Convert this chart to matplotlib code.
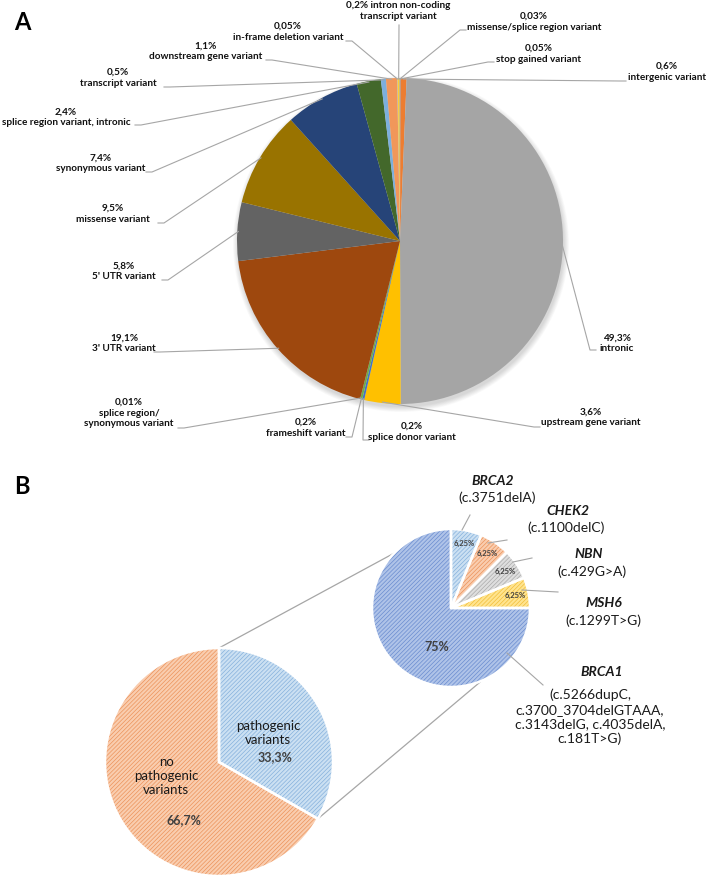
import numpy as np
import matplotlib.pyplot as plt
from matplotlib.patches import Circle

plt.rcParams['font.family'] = ['Lato', 'DejaVu Sans']
plt.rcParams['hatch.linewidth'] = 0.5

# ============ Panel A: all variant types ============
a_names = ['stop gained variant', 'intergenic variant', 'intronic', 'upstream gene variant',
           'splice donor variant', 'frameshift variant', 'splice region/\nsynonymous variant',
           "3' UTR variant", "5' UTR variant", 'missense variant', 'synonymous variant',
           'splice region variant, intronic', 'transcript variant', 'downstream gene variant',
           'in-frame deletion variant', 'intron non-coding\ntranscript variant',
           'missense/splice region variant']
a_values = [0.05, 0.6, 49.3, 3.6, 0.2, 0.2, 0.01, 19.1, 5.8, 9.5, 7.4, 2.4, 0.5, 1.1, 0.05, 0.2, 0.03]
a_pct_text = ['0,05%', '0,6%', '49,3%', '3,6%', '0,2%', '0,2%', '0,01%', '19,1%', '5,8%', '9,5%',
              '7,4%', '2,4%', '0,5%', '1,1%', '0,05%', '0,2%', '0,03%']
a_colors = ['#5B9BD5', '#ED7D31', '#A5A5A5', '#FFC000', '#4472C4', '#70AD47', '#255E91',
            '#9E480E', '#636363', '#997300', '#264478', '#43682B', '#7CAFDD', '#F1975A',
            '#B7B7B7', '#FFCD33', '#698ED0']

# ============ Panel B: pathogenic variants ============
b_main_names = ['pathogenic\nvariants', 'no\npathogenic\nvariants']
b_main_values = [33.3, 66.7]
b_main_pct = ['33,3%', '66,7%']
b_sub_genes = ['BRCA2', 'CHEK2', 'NBN', 'MSH6', 'BRCA1']
b_sub_values = [6.25, 6.25, 6.25, 6.25, 75]
b_sub_pct = ['6,25%', '6,25%', '6,25%', '6,25%', '75%']
b_sub_variants = ['(c.3751delA)', '(c.1100delC)', '(c.429G>A)', '(c.1299T>G)',
                  '(c.5266dupC,\nc.3700_3704delGTAAA,\nc.3143delG, c.4035delA,\nc.181T>G)']

# ============ layout (pixel coordinates, y downwards) ============
W, H = 708, 881
A_C, A_R = (400, 241), 163
B_C, B_R = (219, 762), 114
S_C, S_R = (451, 608), 79

# label centre, line end, stub direction (+1 text on right, -1 text on left)
a_label_xy = [(539, 54), (667, 72), (617, 343), (591, 417), (412, 432), (306, 428),
              (129, 413), (124, 343), (124, 271), (113, 214), (101, 163), (66, 117),
              (118, 78), (206, 51), (288, 32), (398, 11), (534, 22)]
a_line_end = [(488, 62), (620, 81), (590, 350), (534, 427), (363, 440), (352, 437),
              (184, 428), (160, 352), (168, 280), (164, 223), (152, 172), (141, 125),
              (170, 87), (272, 60), (352, 41), (399, 25), (460, 30)]
a_stub = [1, 1, 1, 1, 1, -1, -1, -1, -1, -1, -1, -1, -1, -1, -1, 0, 1]

b_gene_xy = [(493, 481), (568, 511), (589, 554), (604, 603), (602, 672)]
b_var_xy = [(497, 498), (566, 528), (592, 572), (603, 621), (590, 717)]
b_lead_start = [(11, -78), (37, -65), (62, -46), (71, -18), (56, 45)]
b_lead_end = [(470, 515), (507, 540), (532, 558), (558, 592), (543, 685)]
b_conn_angles = [314, 157.3]

line_col = '#A6A6A6'
hatch = '////////'


def edge_point(c, r, frac):
    th = 2 * np.pi * frac
    return c[0] + r * np.sin(th), c[1] - r * np.cos(th)


fig = plt.figure(figsize=(W / 100, H / 100), dpi=100)
ax = fig.add_axes([0, 0, 1, 1])

# soft shadow under pie A
for k in range(8):
    ax.add_patch(Circle((A_C[0] + 1, A_C[1] + 3), A_R + 5 - k * 0.7, color='black',
                        alpha=0.018, lw=0, zorder=0))

ax.pie(a_values, colors=a_colors, center=A_C, radius=A_R, startangle=-90,
       counterclock=True, wedgeprops=dict(linewidth=0), frame=True)

cum = np.cumsum([0] + a_values) / np.sum(a_values)
for i in range(len(a_values)):
    mid = (cum[i] + cum[i + 1]) / 2
    px, py = edge_point(A_C, A_R - 1, mid)
    ex, ey = a_line_end[i]
    ax.plot([px, ex, ex + 6 * a_stub[i]], [py, ey, ey], color=line_col, lw=0.8, zorder=3)
    if i == 15:
        txt = a_pct_text[i] + ' ' + a_names[i]
    else:
        txt = a_pct_text[i] + '\n' + a_names[i]
    ax.text(a_label_xy[i][0], a_label_xy[i][1], txt, ha='center', va='center',
            fontsize=7.2, fontweight='bold', color='#111111', linespacing=1.25, zorder=4)

ax.text(22, 22, 'A', fontsize=17, fontweight='bold', ha='center', va='center')
ax.text(22, 486, 'B', fontsize=17, fontweight='bold', ha='center', va='center')

# ---- panel B main pie ----
main_face = ['#CBE0F2', '#F9CDAF']
main_hatch = ['#86B1DC', '#EC935B']
ax.pie(b_main_values, colors=main_face, center=B_C, radius=B_R, startangle=-90,
       counterclock=True, frame=True,
       wedgeprops=dict(linewidth=0, hatch=hatch))
for w, hc in zip(ax.patches[-2:], main_hatch):
    w.set_edgecolor(hc)
ax.pie(b_main_values, colors=['none', 'none'], center=B_C, radius=B_R, startangle=-90,
       counterclock=True, frame=True, wedgeprops=dict(linewidth=1.8, edgecolor='white'))

ax.text(268, 733, b_main_names[0], ha='center', va='center', fontsize=9.5,
        color='#1a1a1a', linespacing=1.15)
ax.text(275, 757, b_main_pct[0], ha='center', va='center', fontsize=9,
        fontweight='bold', color='#404040')
ax.text(166, 776, b_main_names[1], ha='center', va='center', fontsize=9.5,
        color='#1a1a1a', linespacing=1.15)
ax.text(184, 820, b_main_pct[1], ha='center', va='center', fontsize=9,
        fontweight='bold', color='#404040')

# ---- panel B sub pie ----
sub_face = ['#CBE0F2', '#F9CDAF', '#DEDEDE', '#FFE48F', '#AFC3E8']
sub_hatch = ['#86B1DC', '#EC935B', '#ABABAB', '#F2BE3A', '#6A8CD0']
ax.pie(b_sub_values, colors=sub_face, center=S_C, radius=S_R, startangle=-90,
       counterclock=True, frame=True,
       wedgeprops=dict(linewidth=0, hatch=hatch))
for w, hc in zip(ax.patches[-5:], sub_hatch):
    w.set_edgecolor(hc)
ax.pie(b_sub_values, colors=['none'] * 5, center=S_C, radius=S_R, startangle=-90,
       counterclock=True, frame=True, wedgeprops=dict(linewidth=1.8, edgecolor='white'))

scum = np.cumsum([0] + b_sub_values) / np.sum(b_sub_values)
for i in range(4):
    mid = (scum[i] + scum[i + 1]) / 2
    tx, ty = edge_point(S_C, S_R * 0.83, mid)
    ax.text(tx, ty, b_sub_pct[i], ha='center', va='center', fontsize=5.5,
            fontweight='bold', color='#404040')
ax.text(437, 647, b_sub_pct[4], ha='center', va='center', fontsize=9,
        fontweight='bold', color='#404040')

for i in range(5):
    sx, sy = S_C[0] + b_lead_start[i][0], S_C[1] + b_lead_start[i][1]
    ax.plot([sx, b_lead_end[i][0]], [sy, b_lead_end[i][1]], color=line_col, lw=0.8)
    ax.text(b_gene_xy[i][0], b_gene_xy[i][1], b_sub_genes[i], ha='center', va='center',
            fontsize=10, fontweight='bold', style='italic', color='#1a1a1a')
    ax.text(b_var_xy[i][0], b_var_xy[i][1], b_sub_variants[i], ha='center', va='center',
            fontsize=10, color='#1a1a1a', linespacing=1.25)

# connector lines between the pies
big_pts = [edge_point(B_C, B_R, 0), edge_point(B_C, B_R, b_main_values[0] / 100)]
for (bx, by), ang in zip(big_pts, b_conn_angles):
    sx, sy = edge_point(S_C, S_R, ang / 360)
    ax.plot([bx, sx], [by, sy], color=line_col, lw=0.9, zorder=0.5)

ax.set_xlim(0, W)
ax.set_ylim(H, 0)
ax.set_aspect('equal')
ax.axis('off')
fig.savefig('out.png', dpi=100, facecolor='white')
